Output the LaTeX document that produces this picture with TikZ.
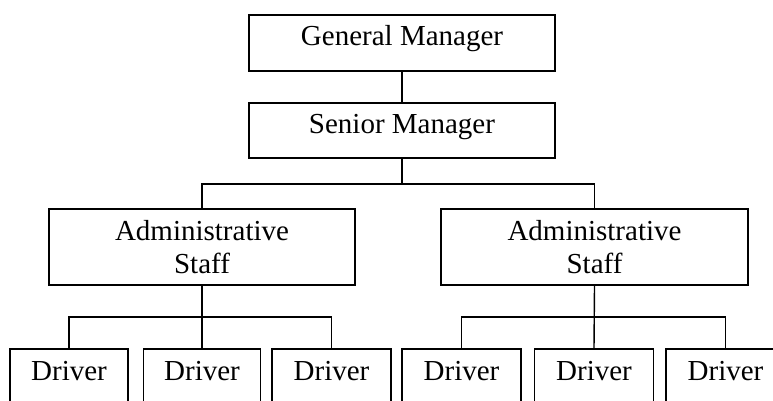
\documentclass[tikz,border=0pt]{standalone}
\usepackage{fontspec}
\setmainfont{Liberation Serif}
\begin{document}
\begin{tikzpicture}[x=1pt,y=-1pt,
  box/.style={draw=black,line width=1.4pt,rectangle,inner sep=0pt,
    font=\fontsize{29}{33}\selectfont,align=center},
  topbox/.style={box,minimum width=306pt,text height=30pt,text depth=26pt},
  adminbox/.style={box,minimum width=306pt,minimum height=76pt},
  driverbox/.style={box,minimum width=118pt,text height=31pt,text depth=40pt},
  link/.style={draw=black,line width=1.4pt}]
\useasboundingbox (0,0) rectangle (773,400);
\clip (0,0) rectangle (773,400);
\fill[white] (0,0) rectangle (773,400);
\node[topbox] (gm) at (402,43) {General Manager};
\node[topbox,text depth=25pt] (sm) at (402,130.5) {Senior Manager};
\node[adminbox] (a1) at (202,247) {Administrative\\Staff};
\node[adminbox,minimum width=307pt] (a2) at (594.5,247) {Administrative\\Staff};
\node[driverbox] (d1) at (69,384.5) {Driver};
\node[driverbox,minimum width=117pt] (d2) at (202,384.5) {Driver};
\node[driverbox,minimum width=119pt] (d3) at (331.5,384.5) {Driver};
\node[driverbox,minimum width=119pt] (d4) at (461.5,384.5) {Driver};
\node[driverbox,minimum width=119pt] (d5) at (594,384.5) {Driver};
\node[driverbox,minimum width=119pt] (d6) at (725.5,384.5) {Driver};
\coordinate (bus1) at (402,184);
\coordinate (bus2) at (202,317);
\coordinate (bus3) at (594,317);
\draw[link] (gm.south) -- (sm.north);
\draw[link] (sm.south) -- (bus1);
\draw[link] (a1.north) |- (bus1) -| (a2.north);
\draw[link] (a1.south) -- (d2.north);
\draw[link] (d1.north) |- (bus2) -| (d3.north);
\draw[link] (a2.south) -- (d5.north);
\draw[link] (d4.north) |- (bus3) -| (d6.north);
\end{tikzpicture}
\end{document}
